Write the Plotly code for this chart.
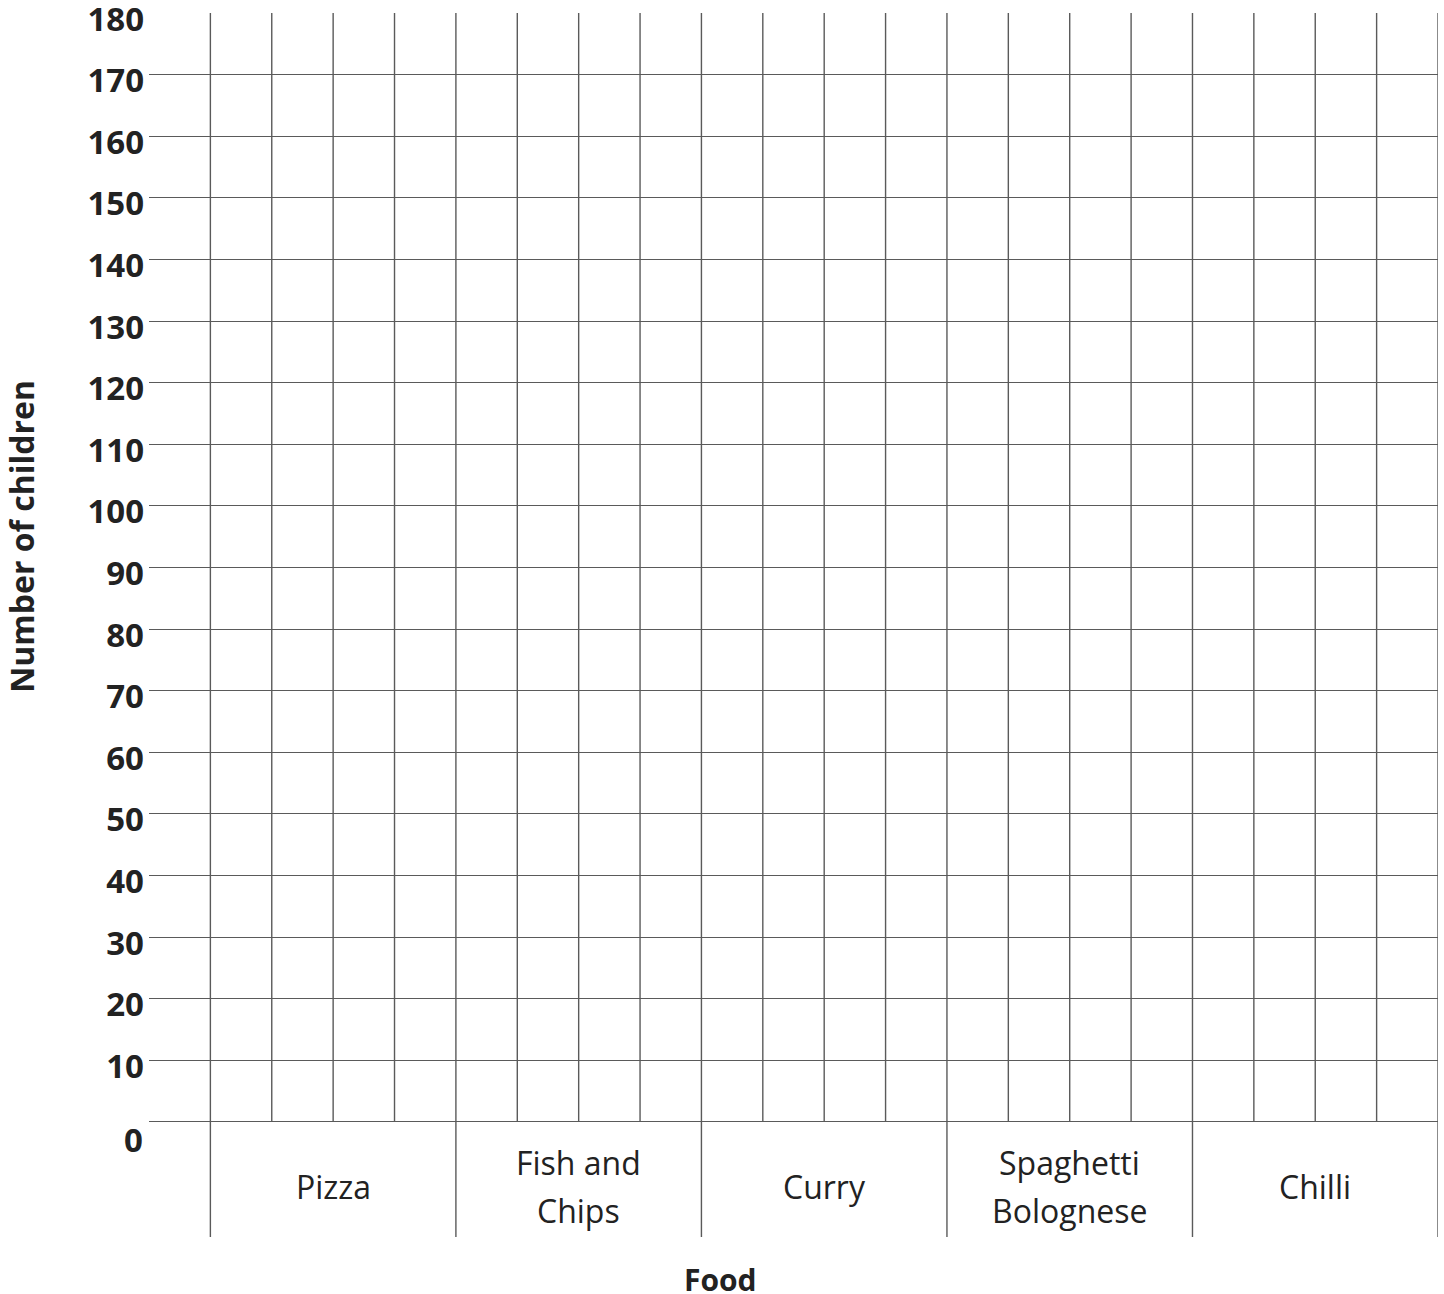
import plotly.graph_objects as go

categories = ["Pizza", "Fish and<br>Chips", "Curry", "Spaghetti<br>Bolognese", "Chilli"]
y_ticks = list(range(0, 181, 10))
y_tick_labels = [str(v) for v in y_ticks]
columns_per_category = 4
y_title = "Number of children"
x_title = "Food"

n_cols = columns_per_category * len(categories)
y_min_ext = -18.67
LINE = "#5a5a5a"
TEXT = "#222222"
LINE_GAP = 48

fig = go.Figure()
# invisible trace to set up axes
fig.add_trace(go.Scatter(x=[-1, n_cols], y=[0, 180], mode="markers",
                         marker=dict(opacity=0), hoverinfo="skip", showlegend=False))

shapes = []
for c in range(n_cols + 1):
    bottom = y_min_ext if c % columns_per_category == 0 else 0
    shapes.append(dict(type="line", xref="x", yref="y", x0=c, x1=c, y0=bottom, y1=180,
                       line=dict(color=LINE, width=1.4), layer="above"))

annotations = []
for i, cat in enumerate(categories):
    lines = cat.split("<br>")
    n = len(lines)
    for k, ln in enumerate(lines):
        annotations.append(dict(x=i * columns_per_category + columns_per_category / 2, y=-10.5,
                                xref="x", yref="y", text=ln, showarrow=False,
                                yshift=-(k - (n - 1) / 2) * LINE_GAP,
                                font=dict(family="Open Sans", size=32, color=TEXT),
                                align="center", xanchor="center", yanchor="middle"))
# "0" label sits lower than the others
annotations.append(dict(x=0, xref="paper", xanchor="right", xshift=-4, y=0, yref="y",
                        yshift=-18, yanchor="middle", text="<b>0</b>", showarrow=False,
                        font=dict(family="Open Sans", size=33, color=TEXT)))
annotations.append(dict(x=0.443, xref="paper", y=0, yref="paper", yshift=-42,
                        xanchor="center", yanchor="middle", text="<b>" + x_title + "</b>",
                        showarrow=False, font=dict(family="Open Sans", size=30, color=TEXT)))
annotations.append(dict(x=0, xref="paper", xshift=-127, y=95, yref="y",
                        xanchor="center", yanchor="middle", textangle=-90,
                        text="<b>" + y_title + "</b>", showarrow=False,
                        font=dict(family="Open Sans", size=32, color=TEXT)))

ticktext = ["" if v == 0 else "<b>" + t + "</b>" for v, t in zip(y_ticks, y_tick_labels)]

fig.update_layout(
    width=1444, height=1294,
    margin=dict(l=149, r=6, t=13, b=57, autoexpand=False),
    paper_bgcolor="white", plot_bgcolor="white",
    shapes=shapes, annotations=annotations,
    xaxis=dict(range=[-1, n_cols], showgrid=False, zeroline=False, showticklabels=False,
               showline=False, ticks="", automargin=False),
    yaxis=dict(range=[y_min_ext, 180], tickvals=y_ticks, ticktext=ticktext,
               showgrid=True, gridcolor=LINE, gridwidth=1.4, zeroline=False,
               showline=False, ticks="", ticklabelshift=6, ticklabelstandoff=4,
               automargin=False, ticklabeloverflow="allow",
               tickfont=dict(family="Open Sans", size=33, color=TEXT)),
    showlegend=False,
)

fig.write_html("out.html", config={"displayModeBar": False},
               post_script="document.body.style.margin='0';")
